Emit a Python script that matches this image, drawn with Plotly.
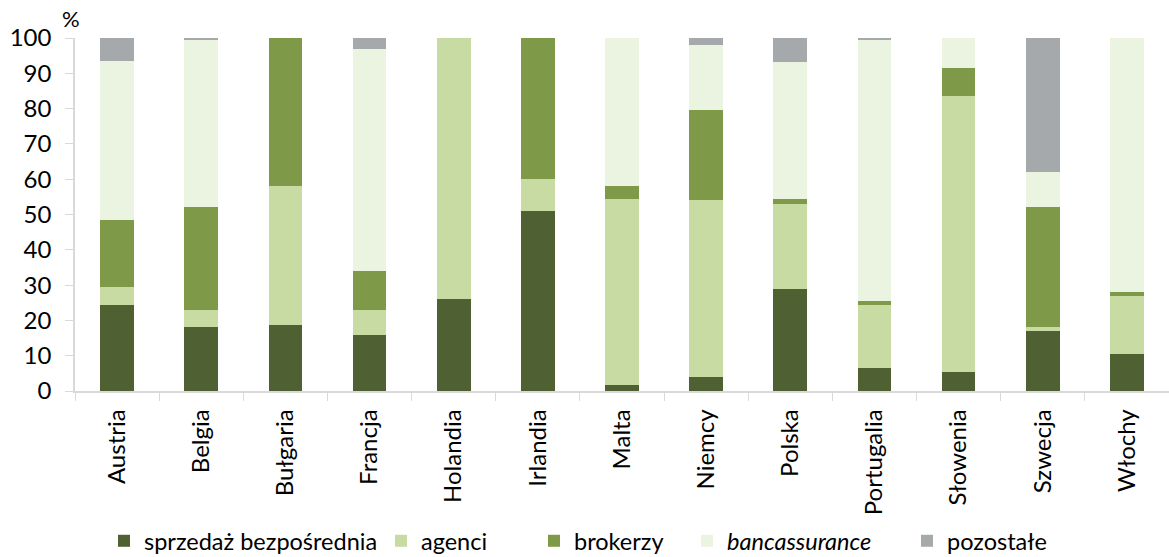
import plotly.graph_objects as go

countries = ["Austria", "Belgia", "Bułgaria", "Francja", "Holandia", "Irlandia", "Malta",
             "Niemcy", "Polska", "Portugalia", "Słowenia", "Szwecja", "Włochy"]

direct = [24.5, 18.0, 18.7, 16.0, 26.0, 51.0, 1.7, 4.0, 28.8, 6.5, 5.5, 17.0, 10.5]
agents = [5.0, 5.0, 39.3, 7.0, 74.0, 9.0, 52.8, 50.0, 24.2, 17.9, 78.2, 1.1, 16.5]
brokers = [19.0, 29.0, 42.0, 11.0, 0.0, 40.0, 3.7, 25.6, 1.4, 1.2, 7.9, 33.9, 1.0]
banc = [45.0, 47.5, 0.0, 63.0, 0.0, 0.0, 41.8, 18.4, 38.9, 74.1, 8.4, 10.0, 72.0]
other = [6.5, 0.5, 0.0, 3.0, 0.0, 0.0, 0.0, 2.0, 6.7, 0.3, 0.0, 38.0, 0.0]

series = [
    ("sprzedaż bezpośrednia", direct, "#4f6132"),
    ("agenci", agents, "#c8dba2"),
    ("brokerzy", brokers, "#7e9a48"),
    ("<i>bancassurance</i>", banc, "#ebf4e1"),
    ("pozostałe", other, "#a6a9ac"),
]
# legend left positions (container px) for each entry
legend_x_px = [104, 381, 534, 687, 907]

FONT = "Lato"
W, H = 1169, 557

fig = go.Figure()
legend_layout = {}
for i, (name, vals, col) in enumerate(series):
    lg = "legend" if i == 0 else f"legend{i+1}"
    fig.add_trace(go.Bar(x=countries, y=vals, name=name, legend=lg,
                         marker=dict(color=col, line=dict(width=0))))
    legend_layout[lg] = dict(orientation="h", xref="container", yref="container",
                             x=legend_x_px[i] / W, xanchor="left",
                             y=1 - 541 / H, yanchor="middle",
                             font=dict(family=FONT, size=23.5), itemwidth=30,
                             bgcolor="rgba(0,0,0,0)")

fig.update_layout(
    barmode="stack",
    bargap=0.6,
    width=W, height=H,
    margin=dict(l=75, r=0, t=38, b=166, autoexpand=False),
    plot_bgcolor="white", paper_bgcolor="white",
    font=dict(family=FONT, size=22, color="#000000"),
    showlegend=True,
    annotations=[dict(text="%", x=0, y=1, xref="paper", yref="paper", xanchor="center",
                      yanchor="bottom", xshift=-4, yshift=4, showarrow=False,
                      font=dict(family=FONT, size=22))],
    **legend_layout,
)
fig.update_yaxes(range=[0, 100], dtick=10, showgrid=False, showline=True,
                 linecolor="#d9d9d9", linewidth=1.5, ticks="outside", ticklen=8,
                 tickcolor="#d9d9d9", zeroline=False, tickfont=dict(size=24),
                 ticklabelstandoff=9, automargin=False)
fig.update_xaxes(showline=True, linecolor="#d9d9d9", linewidth=1.5, ticks="outside",
                 ticklen=8, tickcolor="#d9d9d9", tickson="boundaries", tickangle=-90,
                 tickfont=dict(size=24), ticklabelstandoff=7, automargin=False)

fig.write_html("out.html", config={"displayModeBar": False},
               post_script="document.body.style.margin='0px';")
